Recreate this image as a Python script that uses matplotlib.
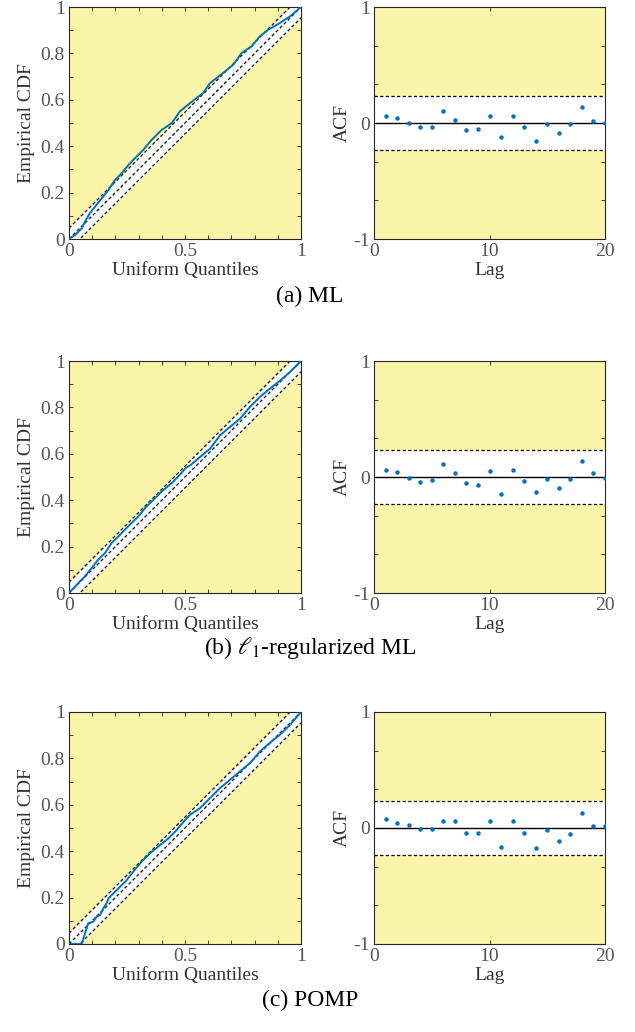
import matplotlib
matplotlib.use("Agg")
import matplotlib.pyplot as plt
import numpy as np

plt.rcParams['font.family'] = ['Liberation Serif', 'DejaVu Serif']
plt.rcParams['mathtext.fontset'] = 'stix'

# ---------------- data ----------------
captions = ["(a) ML", "(b) $\\ell_1$-regularized ML", "(c) POMP"]

ks_ml_x = [0, 0.026, 0.055, 0.069, 0.09, 0.112, 0.141, 0.17, 0.198, 0.227, 0.256, 0.284, 0.32, 0.356, 0.399,
           0.443, 0.478, 0.522, 0.55, 0.578, 0.608, 0.665, 0.708, 0.744, 0.787, 0.823, 0.859, 0.909, 0.953, 0.989, 1.0]
ks_ml_y = [0, 0.017, 0.046, 0.075, 0.111, 0.139, 0.175, 0.211, 0.254, 0.283, 0.319, 0.348, 0.384, 0.427, 0.47,
           0.499, 0.55, 0.586, 0.608, 0.629, 0.672, 0.716, 0.751, 0.802, 0.83, 0.874, 0.902, 0.931, 0.96, 0.991, 1.0]

ks_l1_x = [0, 0.04, 0.069, 0.098, 0.126, 0.155, 0.184, 0.213, 0.241, 0.27, 0.299, 0.328, 0.364, 0.4, 0.443,
           0.478, 0.503, 0.522, 0.565, 0.608, 0.651, 0.694, 0.737, 0.78, 0.823, 0.866, 0.902, 0.953, 1.0]
ks_l1_y = [0, 0.043, 0.072, 0.108, 0.144, 0.172, 0.216, 0.244, 0.273, 0.302, 0.33, 0.366, 0.402, 0.438, 0.474,
           0.51, 0.539, 0.55, 0.586, 0.622, 0.68, 0.716, 0.751, 0.802, 0.845, 0.881, 0.909, 0.953, 1.0]

ks_pomp_x = [0, 0.055, 0.069, 0.083, 0.105, 0.119, 0.134, 0.148, 0.162, 0.17, 0.191, 0.22, 0.249, 0.277, 0.313,
             0.349, 0.385, 0.428, 0.464, 0.5, 0.522, 0.565, 0.608, 0.651, 0.694, 0.737, 0.78, 0.823, 0.866,
             0.909, 0.953, 1.0]
ks_pomp_y = [0, 0, 0.046, 0.089, 0.096, 0.118, 0.125, 0.154, 0.175, 0.197, 0.218, 0.247, 0.276, 0.312, 0.355,
             0.391, 0.42, 0.455, 0.491, 0.534, 0.557, 0.586, 0.629, 0.672, 0.708, 0.744, 0.78, 0.83, 0.867,
             0.902, 0.945, 1.0]

ks_band = 0.047

lags = list(range(1, 21))
acf_ml = [0.063, 0.043, 0.0, -0.032, -0.032, 0.103, 0.029, -0.060, -0.049, 0.057,
          -0.121, 0.057, -0.032, -0.152, -0.009, -0.086, -0.009, 0.138, 0.017, -0.003]
acf_l1 = [0.063, 0.043, -0.009, -0.040, -0.029, 0.115, 0.035, -0.049, -0.069, 0.049,
          -0.147, 0.058, -0.032, -0.130, -0.014, -0.095, -0.014, 0.141, 0.035, -0.006]
acf_pomp = [0.080, 0.040, 0.023, -0.009, -0.009, 0.063, 0.063, -0.046, -0.046, 0.063,
            -0.167, 0.057, -0.046, -0.170, -0.020, -0.109, -0.055, 0.129, 0.020, 0.014]
acf_bound = 0.23

ks_x_list = [ks_ml_x, ks_l1_x, ks_pomp_x]
ks_y_list = [ks_ml_y, ks_l1_y, ks_pomp_y]
acf_list = [acf_ml, acf_l1, acf_pomp]

# ---------------- style ----------------
W, H = 635, 1032
fig = plt.figure(figsize=(W / 100, H / 100), dpi=100)
YEL = '#fbf5a9'
BLUE = '#0072bd'
TICKC = '#555555'
LABC = '#333333'
FS = 14
CAP_FS = 17
DASH = (0, (2.6, 1.9))

row_tops = [7, 361, 712]
cap_y = [296, 648, 1000]
ax_h = 232

def style_axes(ax):
    ax.set_facecolor(YEL)
    for s in ax.spines.values():
        s.set_color('#262626')
        s.set_linewidth(0.8)
    ax.tick_params(which='both', direction='in', top=True, right=True, length=3,
                   width=0.6, color='#262626', labelsize=FS, labelcolor=TICKC, pad=3)

def lighten_left_ticks(ax):
    for t in ax.yaxis.get_major_ticks() + ax.yaxis.get_minor_ticks():
        t.tick1line.set_color('#fdfbe6')

for i in range(3):
    top = row_tops[i]
    bottom = 1 - (top + ax_h) / H
    # KS plot
    ax = fig.add_axes([69 / W, bottom, 232 / W, ax_h / H])
    style_axes(ax)
    xb = np.array([0.0, 1.0])
    ax.fill_between(xb, xb - ks_band, xb + ks_band, color='white', lw=0, zorder=1)
    for off in (-ks_band, 0, ks_band):
        ax.plot(xb, xb + off, color='black', lw=0.9, linestyle=DASH, zorder=2)
    ax.plot(ks_x_list[i], ks_y_list[i], color=BLUE, lw=1.4, zorder=3)
    ax.set_xlim(0, 1)
    ax.set_ylim(0, 1)
    ax.set_xticks(np.arange(0, 1.01, 0.1), minor=True)
    ax.set_yticks(np.arange(0, 1.01, 0.1), minor=True)
    ax.set_xticks([0, 0.5, 1])
    ax.set_xticklabels(['0', '0.5', '1'])
    ax.set_yticks([0, 0.2, 0.4, 0.6, 0.8, 1])
    ax.set_yticklabels(['0', '0.2', '0.4', '0.6', '0.8', '1'])
    ax.set_xlabel('Uniform Quantiles', fontsize=FS, color=LABC, labelpad=1)
    ax.set_ylabel('Empirical CDF', fontsize=FS, color=LABC, labelpad=4)
    lighten_left_ticks(ax)

    # ACF plot
    ax2 = fig.add_axes([374 / W, bottom, 231 / W, ax_h / H])
    style_axes(ax2)
    ax2.fill_between([0, 20], [-acf_bound] * 2, [acf_bound] * 2, color='white', lw=0, zorder=1)
    ax2.axhline(acf_bound, color='black', lw=0.9, linestyle=DASH, zorder=2)
    ax2.axhline(-acf_bound, color='black', lw=0.9, linestyle=DASH, zorder=2)
    ax2.axhline(0, color='black', lw=1.0, zorder=2)
    ax2.plot(lags, acf_list[i], linestyle='none', marker='o', ms=2.2, color=BLUE, zorder=3)
    ax2.set_xlim(0, 20)
    ax2.set_ylim(-1, 1)
    ax2.set_yticks(np.linspace(-1, 1, 7), minor=True)
    ax2.set_xticks([0, 10, 20])
    ax2.set_xticklabels(['0', '10', '20'])
    ax2.set_yticks([-1, 0, 1])
    ax2.set_yticklabels(['-1', '0', '1'])
    ax2.set_xlabel('Lag', fontsize=FS, color=LABC, labelpad=1)
    ax2.set_ylabel('ACF', fontsize=FS, color=LABC, labelpad=2)
    lighten_left_ticks(ax2)

    fig.text(310 / W, 1 - cap_y[i] / H, captions[i], ha='center', va='center',
             fontsize=CAP_FS, color='black')

fig.savefig('out.png', dpi=100)
